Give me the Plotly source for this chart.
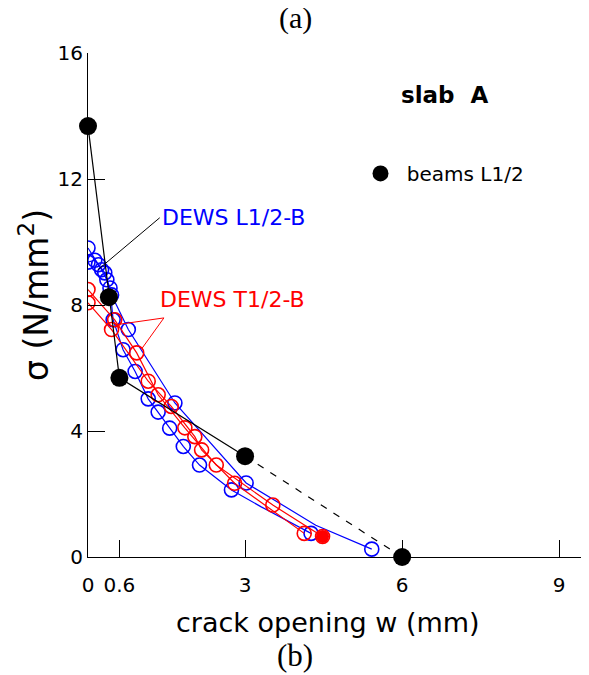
import plotly.graph_objects as go

# beams L1/2 (black)
beam_w = [0.0, 0.40, 0.60, 3.0, 6.0]
beam_s = [13.68, 8.25, 5.69, 3.20, 0.0]

# DEWS L1/2-B (blue) - two tests
blue1_w = [0.0, 0.20, 0.32, 0.45, 0.77, 1.66, 3.02, 4.35, 5.42]
blue1_s = [9.81, 9.28, 9.02, 8.32, 7.22, 4.89, 2.35, 1.01, 0.25]
blue2_w = [0.0, 0.13, 0.26, 0.36, 0.42, 0.48, 0.67, 0.90, 1.15, 1.34, 1.56, 1.82, 2.13, 2.74, 3.30, 4.26]
blue2_s = [9.36, 9.42, 9.12, 8.80, 8.54, 7.53, 6.58, 5.89, 5.02, 4.60, 4.09, 3.51, 2.92, 2.13, 1.60, 0.75]
blue1_mk_w = [0.0, 0.20, 0.32, 0.45, 0.77, 1.66, 3.02, 5.42]
blue1_mk_s = [9.81, 9.28, 9.02, 8.32, 7.22, 4.89, 2.35, 0.25]
blue2_mk_w = [0.0, 0.13, 0.26, 0.36, 0.42, 0.48, 0.67, 0.90, 1.15, 1.34, 1.56, 1.82, 2.13, 2.74, 4.26]
blue2_mk_s = [9.36, 9.42, 9.12, 8.80, 8.54, 7.53, 6.58, 5.89, 5.02, 4.60, 4.09, 3.51, 2.92, 2.13, 0.75]

# DEWS T1/2-B (red) - two tests
red1_w = [0.0, 0.51, 0.93, 1.34, 1.85, 2.45, 3.53, 4.48]
red1_s = [8.49, 7.53, 6.48, 5.15, 4.10, 2.92, 1.65, 0.65]
red2_w = [0.0, 0.45, 1.15, 1.59, 2.04, 2.17, 2.80, 4.13]
red2_s = [8.07, 7.22, 5.58, 4.78, 3.82, 3.40, 2.34, 0.75]
red_end_w = [4.48]
red_end_s = [0.65]

x_ticks = [0, 0.6, 3, 6, 9]
x_tick_text = ["0", "0.6", "3", "6", "9"]
y_ticks = [0, 4, 8, 12, 16]

FONT = "DejaVu Sans"
BLUE = "#0000ff"
RED = "#ff0000"

fig = go.Figure()

for w, s in [(blue1_w, blue1_s), (blue2_w, blue2_s)]:
    fig.add_trace(go.Scatter(x=w, y=s, mode="lines", line=dict(color=BLUE, width=1.2),
                             showlegend=False, hoverinfo="skip"))
for w, s in [(blue1_mk_w, blue1_mk_s), (blue2_mk_w, blue2_mk_s)]:
    fig.add_trace(go.Scatter(x=w, y=s, mode="markers",
                             marker=dict(symbol="circle-open", size=14, color=BLUE, line=dict(width=1.6)),
                             showlegend=False))
for w, s in [(red1_w, red1_s), (red2_w, red2_s)]:
    fig.add_trace(go.Scatter(x=w, y=s, mode="lines+markers", line=dict(color=RED, width=1.2),
                             marker=dict(symbol="circle-open", size=14, color=RED, line=dict(width=1.6)),
                             showlegend=False))
fig.add_trace(go.Scatter(x=red_end_w, y=red_end_s, mode="markers",
                         marker=dict(symbol="circle", size=13, color=RED), showlegend=False))

fig.add_trace(go.Scatter(x=beam_w[:4], y=beam_s[:4], mode="lines",
                         line=dict(color="black", width=1.2), showlegend=False, hoverinfo="skip"))
fig.add_trace(go.Scatter(x=beam_w[3:], y=beam_s[3:], mode="lines",
                         line=dict(color="black", width=1.2, dash="7px,8px"), showlegend=False, hoverinfo="skip"))
fig.add_trace(go.Scatter(x=beam_w, y=beam_s, mode="markers", name="\u00a0beams L1/2",
                         marker=dict(symbol="circle", size=18, color="black"), cliponaxis=False))

# pointer lines for labels
fig.add_shape(type="line", x0=0.19, y0=9.12, x1=1.37, y1=10.77, line=dict(color="black", width=1))
fig.add_shape(type="line", x0=1.45, y0=7.59, x1=0.52, y1=7.37, line=dict(color=RED, width=1))
fig.add_shape(type="line", x0=1.45, y0=7.59, x1=1.03, y1=6.62, line=dict(color=RED, width=1))

fig.add_annotation(x=1.37, y=10.77, text="DEWS L1/2-B", showarrow=False, xanchor="left",
                   yanchor="middle", font=dict(family=FONT, size=22, color=BLUE))
fig.add_annotation(x=1.33, y=8.17, text="DEWS T1/2-B", showarrow=False, xanchor="left",
                   yanchor="middle", font=dict(family=FONT, size=22, color=RED))
fig.add_annotation(x=0.714, y=0.916, xref="paper", yref="paper", text="<b>slab  A</b>",
                   showarrow=False, xanchor="center", yanchor="middle",
                   font=dict(family=FONT, size=23, color="black"))
fig.add_annotation(x=0.414, y=1.106, xref="paper", yref="paper", text="(a)",
                   showarrow=False, xanchor="center", yanchor="top", borderpad=0,
                   font=dict(family="Liberation Serif", size=30, color="black"))
fig.add_annotation(x=0.414, y=-0.196, xref="paper", yref="paper", text="(b)",
                   showarrow=False, xanchor="center", yanchor="middle",
                   font=dict(family="Liberation Serif", size=31, color="black"))
# axis titles
fig.add_annotation(x=0.48, y=-0.129, xref="paper", yref="paper", text="crack opening w (mm)",
                   showarrow=False, xanchor="center", yanchor="middle",
                   font=dict(family=FONT, size=27, color="black"))
fig.add_annotation(x=-0.106, y=0.52, xref="paper", yref="paper", text="σ (N/mm<sup>2</sup>)",
                   textangle=-90, showarrow=False, xanchor="center", yanchor="middle",
                   font=dict(family=FONT, size=33, color="black"))

fig.update_layout(
    width=589, height=675,
    margin=dict(l=80, r=9, t=45, b=126),
    paper_bgcolor="white", plot_bgcolor="white",
    font=dict(family=FONT, size=19, color="black"),
    showlegend=True,
    legend=dict(x=0.545, y=0.761, xanchor="left", yanchor="middle",
                bgcolor="rgba(0,0,0,0)", font=dict(family=FONT, size=20)),
    xaxis=dict(range=[0, 9.55], showgrid=False, zeroline=False, showline=True,
               linecolor="black", linewidth=1.2, ticks="inside", ticklen=17, tickcolor="black",
               tickvals=x_ticks, ticktext=x_tick_text, tickfont=dict(size=20),
               ticklabelstandoff=10),
    yaxis=dict(range=[0, 16], showgrid=False, zeroline=False, showline=True,
               linecolor="black", linewidth=1.2, ticks="inside", ticklen=17, tickcolor="black",
               tickvals=y_ticks, tickfont=dict(size=20)),
)

fig.write_html("out.html")
